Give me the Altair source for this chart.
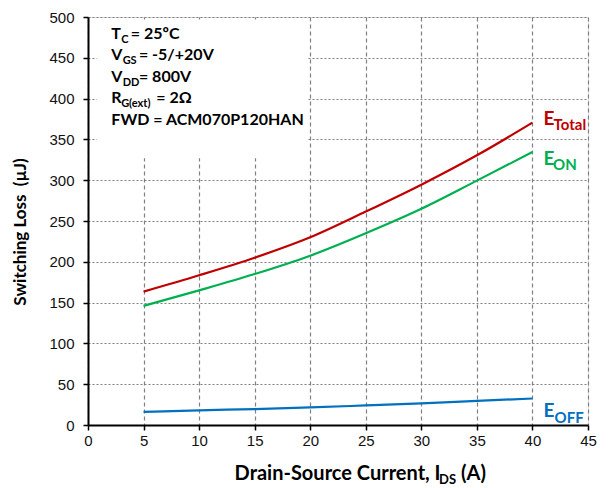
import altair as alt
import pandas as pd

# Drain-source current (A)
current = [5, 10, 15, 20, 25, 30, 35, 40]
# Switching energies (µJ)
e_total = [163.5, 183.5, 205, 230, 261.5, 294.5, 330.5, 370.5]
e_on = [146, 165, 185, 207.5, 235, 265, 299.5, 334.5]
e_off = [16, 18, 19.5, 21.5, 24, 26.5, 29.5, 32.5]

series_names = ["E_Total", "E_ON", "E_OFF"]
series_colors = ["#C00000", "#00B050", "#0070C0"]

x_ticks = [0, 5, 10, 15, 20, 25, 30, 35, 40, 45]
y_ticks = [0, 50, 100, 150, 200, 250, 300, 350, 400, 450, 500]

rows = []
for name, vals in zip(series_names, [e_total, e_on, e_off]):
    for c, v in zip(current, vals):
        rows.append({"current": c, "energy": v, "series": name})
df = pd.DataFrame(rows)

W, H = 500, 408
LABEL_FONT = "Liberation Sans"
BOLD_FONT = "Lato"

x_scale = alt.Scale(domain=[0, 45], nice=False)
y_scale = alt.Scale(domain=[0, 500], nice=False)

x_axis = alt.Axis(
    values=x_ticks, title=None, grid=True, gridDash=[4, 3], gridColor="#808080",
    gridWidth=1.2, gridOpacity=1, domainColor="black", domainWidth=2,
    tickColor="black", tickSize=5, tickWidth=1.5, labelFont=LABEL_FONT,
    labelFontSize=15, labelColor="#111", labelPadding=3, labelFlush=False,
)
y_axis = alt.Axis(
    values=y_ticks, title=None, grid=True, gridDash=[2, 2], gridColor="#808080",
    gridWidth=1.2, gridOpacity=1, domainColor="black", domainWidth=2,
    tickColor="black", tickSize=5, tickWidth=1.5, labelFont=LABEL_FONT,
    labelFontSize=15, labelColor="#111", labelPadding=9, labelFlush=False,
)

lines = alt.Chart(df).mark_line(strokeWidth=2.2, interpolate="monotone").encode(
    x=alt.X("current:Q", scale=x_scale, axis=x_axis),
    y=alt.Y("energy:Q", scale=y_scale, axis=y_axis),
    color=alt.Color("series:N", scale=alt.Scale(domain=series_names, range=series_colors), legend=None),
    detail="series:N",
)

# White panel behind the test-condition notes
panel = alt.Chart(pd.DataFrame({"x": [0.8], "x2": [19.8], "y": [327], "y2": [497]})).mark_rect(
    color="white"
).encode(x=alt.X("x:Q", scale=x_scale), x2="x2:Q", y=alt.Y("y:Q", scale=y_scale), y2="y2:Q")

# Test-condition notes: (row baseline, main text, subscript, remainder, sub dx, rest dx)
note_x = 2.1
notes = [
    (473.2, "T", "C", "= 25ºC", 9.8, 19.5),
    (447.0, "V", "GS", "= -5/+20V", 11.3, 27.6),
    (420.8, "V", "DD", "= 800V", 11.3, 27.6),
    (394.6, "R", "G(ext)", "= 2Ω", 9.8, 45.0),
    (368.2, "FWD = ACM070P120HAN", "", "", 0, 0),
]

layers = [panel, lines]
for yv, main, sub, rest, sdx, rdx in notes:
    d = pd.DataFrame({"x": [note_x], "y": [yv]})
    base = alt.Chart(d).encode(x=alt.X("x:Q", scale=x_scale), y=alt.Y("y:Q", scale=y_scale))
    layers.append(base.mark_text(text=main, font=BOLD_FONT, fontWeight="bold", fontSize=16,
                                 align="left", baseline="alphabetic", color="black"))
    if sub:
        layers.append(base.mark_text(text=sub, font=BOLD_FONT, fontWeight="bold", fontSize=11,
                                     align="left", baseline="alphabetic", color="black", dx=sdx, dy=4))
        layers.append(base.mark_text(text=rest, font=BOLD_FONT, fontWeight="bold", fontSize=16,
                                     align="left", baseline="alphabetic", color="black", dx=rdx))

# Curve labels at the line ends
curve_labels = [
    (41.0, 367.4, "Total", "#C00000", 10.0, 5),
    (41.0, 318.2, "ON", "#00B050", 9.5, 5),
    (41.0, 9.7, "OFF", "#0070C0", 11.0, 6),
]
for xv, yv, sub, col, sdx, sdy in curve_labels:
    d = pd.DataFrame({"x": [xv], "y": [yv]})
    base = alt.Chart(d).encode(x=alt.X("x:Q", scale=x_scale), y=alt.Y("y:Q", scale=y_scale))
    layers.append(base.mark_text(text="E", font=BOLD_FONT, fontWeight="bold", fontSize=19,
                                 align="left", baseline="alphabetic", color=col))
    layers.append(base.mark_text(text=sub, font=BOLD_FONT, fontWeight="bold", fontSize=15,
                                 align="left", baseline="alphabetic", color=col, dx=sdx, dy=sdy))

# Axis titles
layers.append(alt.Chart(pd.DataFrame({"t": ["Switching Loss\u00a0\u00a0(µJ)"]})).mark_text(
    font=BOLD_FONT, fontWeight="bold", fontSize=17, angle=270, align="center",
    baseline="middle", color="black"
).encode(text="t:N", x=alt.value(-67), y=alt.value(215)))

xt = pd.DataFrame({"t": ["Drain-Source Current, I"]})
layers.append(alt.Chart(xt).mark_text(
    font=BOLD_FONT, fontWeight="bold", fontSize=20, align="left", baseline="alphabetic", color="black"
).encode(text="t:N", x=alt.value(146.6), y=alt.value(463)))
layers.append(alt.Chart(pd.DataFrame({"t": ["DS"]})).mark_text(
    font=BOLD_FONT, fontWeight="bold", fontSize=13, align="left", baseline="alphabetic", color="black"
).encode(text="t:N", x=alt.value(351), y=alt.value(467)))
layers.append(alt.Chart(pd.DataFrame({"t": ["(A)"]})).mark_text(
    font=BOLD_FONT, fontWeight="bold", fontSize=20, align="left", baseline="alphabetic", color="black"
).encode(text="t:N", x=alt.value(373), y=alt.value(463)))

chart = alt.layer(*layers).properties(
    width=W, height=H,
    autosize=alt.AutoSizeParams(type="none"),
    padding={"left": 88, "top": 17, "right": 20, "bottom": 63},
).configure_view(stroke=None).configure(background="white")

chart.save("out.html", embed_options={"renderer": "svg", "actions": False})
